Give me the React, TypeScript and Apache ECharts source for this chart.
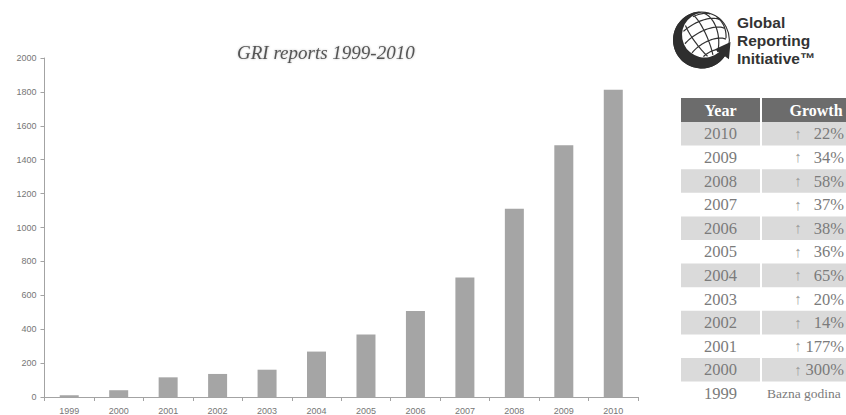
import React, { useEffect, useRef } from 'react';
import * as echarts from 'echarts';

// ---- chart data -------------------------------------------------------
const years = ['1999', '2000', '2001', '2002', '2003', '2004', '2005', '2006', '2007', '2008', '2009', '2010'];
const reports = [10, 40, 116, 136, 161, 268, 368, 507, 705, 1110, 1485, 1812];
const yMin = 0;
const yMax = 2000;
const yStep = 200;
const chartTitle = 'GRI reports 1999-2010';

// ---- growth table -----------------------------------------------------
const tableHeader = ['Year', 'Growth'];
const tableYears = ['2010', '2009', '2008', '2007', '2006', '2005', '2004', '2003', '2002', '2001', '2000', '1999'];
const tableGrowth = ['22%', '34%', '58%', '37%', '38%', '36%', '65%', '20%', '14%', '177%', '300%', ''];
const baseYearLabel = 'Bazna godina';

// ---- logo -------------------------------------------------------------
const logoLines = ['Global', 'Reporting', 'Initiative™'];

const OUTER_R = 28.5;
const INNER_CX = 3;
const INNER_CY = -5;
const INNER_R = 22.5;

const f = (n: number) => n.toFixed(2);
const rad = (d: number) => (d * Math.PI) / 180;
const onCircle = (cx: number, cy: number, r: number, deg: number) => [cx + r * Math.cos(rad(deg)), cy + r * Math.sin(rad(deg))];

// dark "G" swoosh wrapping the globe, ending in an arrow head
function swooshPath(): string {
  const startDeg = 265;
  const endDeg = 35;
  const o1 = onCircle(0, 0, OUTER_R, startDeg);
  const o2 = onCircle(0, 0, OUTER_R, endDeg);
  // point of the inner circle lying on the ray at endDeg
  const ux = Math.cos(rad(endDeg));
  const uy = Math.sin(rad(endDeg));
  const b = ux * INNER_CX + uy * INNER_CY;
  const c = INNER_CX * INNER_CX + INNER_CY * INNER_CY - INNER_R * INNER_R;
  const t = b + Math.sqrt(b * b - c);
  const i2 = [t * ux, t * uy];
  const i1 = onCircle(INNER_CX, INNER_CY, INNER_R, 262);
  // arrow head
  const mid = (OUTER_R + t) / 2;
  const baseOut = [(OUTER_R + 5) * ux, (OUTER_R + 5) * uy];
  const baseIn = [(t - 5) * ux, (t - 5) * uy];
  const tx = uy;
  const ty = -ux;
  const tip = [mid * ux + 15 * tx, mid * uy + 15 * ty];
  return [
    `M${f(o1[0])} ${f(o1[1])}`,
    `A${OUTER_R} ${OUTER_R} 0 1 0 ${f(o2[0])} ${f(o2[1])}`,
    `L${f(baseOut[0])} ${f(baseOut[1])}`,
    `L${f(tip[0])} ${f(tip[1])}`,
    `L${f(baseIn[0])} ${f(baseIn[1])}`,
    `L${f(i2[0])} ${f(i2[1])}`,
    `A${INNER_R} ${INNER_R} 0 1 1 ${f(i1[0])} ${f(i1[1])}`,
    'Z',
  ].join(' ');
}

// latitude / longitude lines of a tilted globe, kept inside the white part
function globeGridPath(): string {
  const R = 27.5;
  const tilt = rad(28);
  const spin = rad(-30);
  const yaw = rad(15);
  const proj = (latD: number, lonD: number) => {
    const lat = rad(latD);
    const lon = rad(lonD) + yaw;
    const x = Math.cos(lat) * Math.sin(lon);
    const y = -Math.sin(lat);
    const z = Math.cos(lat) * Math.cos(lon);
    const y2 = y * Math.cos(tilt) - z * Math.sin(tilt);
    const z2 = y * Math.sin(tilt) + z * Math.cos(tilt);
    const x3 = x * Math.cos(spin) - y2 * Math.sin(spin);
    const y3 = x * Math.sin(spin) + y2 * Math.cos(spin);
    return [R * x3, R * y3, z2];
  };
  const inside = (p: number[]) =>
    p[2] > 0 && Math.hypot(p[0] - INNER_CX, p[1] - INNER_CY) < INNER_R - 0.6 && Math.hypot(p[0], p[1]) < OUTER_R - 0.8;
  const parts: string[] = [];
  const trace = (pts: number[][]) => {
    let open = false;
    for (const p of pts) {
      if (inside(p)) {
        parts.push(`${open ? 'L' : 'M'}${f(p[0])} ${f(p[1])}`);
        open = true;
      } else {
        open = false;
      }
    }
  };
  for (let lat = -60; lat <= 60; lat += 24) {
    const pts: number[][] = [];
    for (let lon = -180; lon <= 180; lon += 4) pts.push(proj(lat, lon));
    trace(pts);
  }
  for (let lon = -180; lon < 180; lon += 30) {
    const pts: number[][] = [];
    for (let lat = -90; lat <= 90; lat += 4) pts.push(proj(lat, lon));
    trace(pts);
  }
  return parts.join(' ');
}

echarts.graphic.registerShape('griSwoosh', echarts.graphic.extendPath(swooshPath(), {}));
echarts.graphic.registerShape('griGrid', echarts.graphic.extendPath(globeGridPath(), {}));

// ---- layout constants ---------------------------------------------------
const TABLE_LEFT = 681;
const YEAR_COL_W = 79;
const GROWTH_COL_X = 762;
const GROWTH_COL_W = 110;
const HEADER_TOP = 98;
const HEADER_H = 24;
const ROW_H = 23.6;
const SERIF = '"Liberation Serif", "DejaVu Serif", serif';
const SANS = '"Liberation Sans", Arial, sans-serif';
const TABLE_TEXT = '#7b7b7b';

function buildTable(): any[] {
  const els: any[] = [];
  els.push(
    { type: 'rect', shape: { x: TABLE_LEFT, y: HEADER_TOP, width: YEAR_COL_W, height: HEADER_H }, style: { fill: '#6c6c6c' } },
    { type: 'rect', shape: { x: GROWTH_COL_X, y: HEADER_TOP, width: GROWTH_COL_W, height: HEADER_H }, style: { fill: '#6c6c6c' } },
    {
      type: 'text', x: TABLE_LEFT + YEAR_COL_W / 2, y: HEADER_TOP + HEADER_H / 2,
      style: { text: tableHeader[0], fill: '#ffffff', font: `bold 16px ${SERIF}`, align: 'center', verticalAlign: 'middle' },
    },
    {
      type: 'text', x: 816, y: HEADER_TOP + HEADER_H / 2,
      style: { text: tableHeader[1], fill: '#ffffff', font: `bold 16px ${SERIF}`, align: 'center', verticalAlign: 'middle' },
    },
  );
  tableYears.forEach((yr, i) => {
    const top = HEADER_TOP + HEADER_H + i * ROW_H;
    const cy = top + ROW_H / 2;
    if (i % 2 === 0) {
      els.push(
        { type: 'rect', shape: { x: TABLE_LEFT, y: top, width: YEAR_COL_W, height: ROW_H }, style: { fill: '#dadada' } },
        { type: 'rect', shape: { x: GROWTH_COL_X, y: top, width: GROWTH_COL_W, height: ROW_H }, style: { fill: '#dadada' } },
      );
    }
    els.push({
      type: 'text', x: TABLE_LEFT + YEAR_COL_W / 2, y: cy,
      style: { text: yr, fill: TABLE_TEXT, font: `16.5px ${SERIF}`, align: 'center', verticalAlign: 'middle' },
    });
    const g = tableGrowth[i];
    if (g) {
      els.push(
        {
          type: 'text', x: 798, y: cy,
          style: { text: '↑', fill: '#9c9c9c', font: `15px ${SERIF}`, align: 'center', verticalAlign: 'middle' },
        },
        {
          type: 'text', x: 844, y: cy,
          style: { text: g, fill: TABLE_TEXT, font: `16.5px ${SERIF}`, align: 'right', verticalAlign: 'middle' },
        },
      );
    } else {
      els.push({
        type: 'text', x: 767, y: cy,
        style: { text: baseYearLabel, fill: TABLE_TEXT, font: `13.5px ${SERIF}`, align: 'left', verticalAlign: 'middle' },
      });
    }
  });
  return els;
}

function buildLogo(): any[] {
  const gx = 701.5;
  const gy = 40;
  const els: any[] = [
    { type: 'circle', shape: { cx: gx, cy: gy, r: OUTER_R - 0.6 }, style: { fill: '#ffffff', stroke: '#333333', lineWidth: 1.1 } },
    { type: 'griGrid', x: gx, y: gy, style: { fill: 'none', stroke: '#333333', lineWidth: 1.2 } },
    { type: 'griSwoosh', x: gx, y: gy, style: { fill: '#2e2e2e', stroke: 'none' } },
  ];
  logoLines.forEach((line, i) => {
    els.push({
      type: 'text', x: 737, y: 22 + i * 18,
      style: {
        text: line,
        fill: '#333333',
        font: `bold 15.5px ${SANS}`,
        align: 'left',
        verticalAlign: 'middle',
      },
    });
  });
  return els;
}

export default function App() {
  const ref = useRef<HTMLDivElement>(null);

  useEffect(() => {
    if (!ref.current) return;
    const chart = echarts.init(ref.current, undefined, { renderer: 'svg' });
    const axisColor = '#a3a3a3';
    const labelStyle = { fontSize: 9, color: '#767676', fontFamily: SANS };
    chart.setOption({
      animation: false,
      backgroundColor: '#ffffff',
      title: {
        text: chartTitle,
        left: 237,
        top: 43,
        padding: 0,
        textStyle: {
          fontFamily: SERIF,
          fontStyle: 'italic',
          fontWeight: 'normal',
          fontSize: 19,
          color: '#555555',
          textShadowColor: 'rgba(0,0,0,0.25)',
          textShadowBlur: 2,
        },
      },
      grid: { left: 44.5, right: 208, top: 58, bottom: 18, containLabel: false },
      xAxis: {
        type: 'category',
        data: years,
        boundaryGap: true,
        axisLine: { show: true, lineStyle: { color: axisColor, width: 1 } },
        axisTick: { show: true, length: 4, lineStyle: { color: axisColor } },
        axisLabel: { ...labelStyle, margin: 9 },
        splitLine: { show: false },
      },
      yAxis: {
        type: 'value',
        min: yMin,
        max: yMax,
        interval: yStep,
        axisLine: { show: true, lineStyle: { color: axisColor, width: 1 } },
        axisTick: { show: true, length: 4, lineStyle: { color: axisColor } },
        axisLabel: { ...labelStyle, margin: 8, formatter: (v: number) => String(v) },
        splitLine: { show: false },
      },
      series: [
        {
          type: 'bar',
          data: reports,
          barWidth: 19,
          itemStyle: { color: '#a5a5a5' },
        },
      ],
      graphic: [...buildLogo(), ...buildTable()],
    });
    return () => chart.dispose();
  }, []);

  return (
    <div
      ref={ref}
      style={{ position: 'fixed', left: 0, top: 0, width: 846, height: 415, background: '#ffffff' }}
    />
  );
}
